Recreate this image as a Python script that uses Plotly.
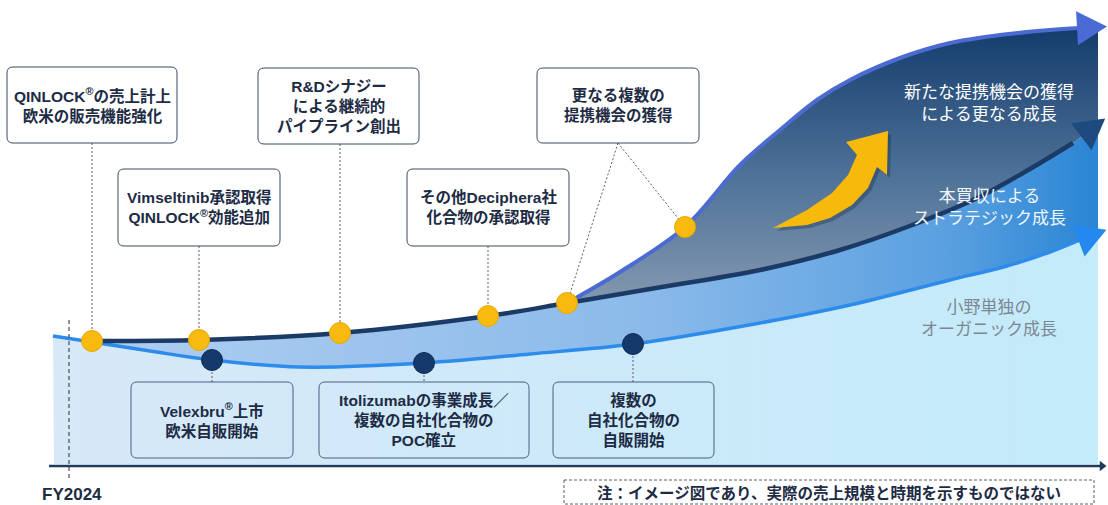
import plotly.graph_objects as go
import numpy as np

W, H = 1108, 505

# ---- growth curves (x: time position, y: level, y axis drawn top-down) ----
organic_x = [53, 92, 150, 212, 300, 424, 530, 633, 760, 850, 950, 1007, 1050, 1080, 1098]
organic_y = [336, 342, 351, 360, 367, 363, 354, 344, 323, 305, 280, 266, 252, 240, 233]
strategic_x = [92, 200, 340, 488, 567, 650, 760, 840, 907, 973, 1023, 1073, 1098]
strategic_y = [341, 340, 333, 316, 303, 289, 270, 250, 227, 200, 173, 143, 124]
partner_x = [567, 620, 685, 740, 780, 817, 850, 900, 950, 1000, 1050, 1080, 1098]
partner_y = [303, 272, 227, 165, 130, 100, 80, 58, 43, 35, 30, 28, 27]
base_level = 464

# ---- milestones ----
yellow_x = [92, 199, 340, 488, 567, 685]
yellow_y = [341, 340, 333, 316, 303, 227]
navy_x = [212, 424, 633]
navy_y = [360, 363, 344]

top_text = ["QINLOCK<sup>®</sup>の売上計上<br>欧米の販売機能強化",
            "Vimseltinib承認取得<br>QINLOCK<sup>®</sup>効能追加",
            "R&amp;Dシナジー<br>による継続的<br>パイプライン創出",
            "その他Deciphera社<br>化合物の承認取得",
            "更なる複数の<br>提携機会の獲得"]
top_x0 = [7, 118, 258, 407, 537]
top_x1 = [177, 280, 419, 569, 699]
top_y0 = [67, 169, 68, 169, 68]
top_y1 = [143, 246, 144, 246, 143]
top_targets = [[0], [1], [2], [3], [4, 5]]

bot_text = ["Velexbru<sup>®</sup>上市<br>欧米自販開始",
            "Itolizumabの事業成長／<br>複数の自社化合物の<br>POC確立",
            "複数の<br>自社化合物の<br>自販開始"]
bot_x0 = [131, 319, 553]
bot_x1 = [293, 529, 714]
bot_y0 = [382, 382, 382]
bot_y1 = [458, 458, 458]

# series labels
label_text = ["新たな提携機会の獲得<br>による更なる成長",
              "本買収による<br>ストラテジック成長",
              "小野単独の<br>オーガニック成長"]
label_y = [103, 207, 318]
label_col = ["white", "#F2F6FB", "#7D8794"]

# yellow swoosh icon outline
spark_x = [773, 807, 832, 848, 857, 846, 888, 887, 877, 868, 852, 830, 807, 773]
spark_y = [228, 210, 193, 175, 155, 142, 131, 175, 167, 188, 205, 218, 225, 228]

C_ORG = "#2D8CEB"
C_STR = "#1B3A66"
C_PAR = "#4B6BD3"
TXT = "#1D2B45"
FONT = "Liberation Sans, Noto Sans CJK JP, sans-serif"

fig = go.Figure()
nohover = dict(hoverinfo="skip", showlegend=False)

# light organic area
fig.add_trace(go.Scatter(x=[organic_x[0] + 1, organic_x[-1]], y=[base_level, base_level],
                         mode="lines", line=dict(width=0), **nohover))
fig.add_trace(go.Scatter(x=organic_x, y=organic_y, mode="lines", line=dict(width=0, shape="spline"),
                         fill="tonexty",
                         fillgradient=dict(type="horizontal", start=54, stop=1098,
                                           colorscale=[[0, "#D7E8F8"], [1, "#C3EBFA"]]),
                         **nohover))
# strategic area
ox = np.array(organic_x); oy = np.array(organic_y)
m = ox >= strategic_x[0]
fig.add_trace(go.Scatter(x=ox[m], y=oy[m], mode="lines", line=dict(width=0, shape="spline"), **nohover))
fig.add_trace(go.Scatter(x=strategic_x, y=strategic_y, mode="lines", line=dict(width=0, shape="spline"),
                         fill="tonexty",
                         fillgradient=dict(type="horizontal", start=92, stop=1098,
                                           colorscale=[[0, "#AFCEF0"], [0.55, "#8BBAEA"],
                                                       [0.85, "#5AA0E0"], [1, "#2A85D3"]]),
                         **nohover))
# partnership area
sx = np.array(strategic_x); sy = np.array(strategic_y)
m2 = sx >= partner_x[0]
fig.add_trace(go.Scatter(x=sx[m2], y=sy[m2], mode="lines", line=dict(width=0, shape="spline"), **nohover))
fig.add_trace(go.Scatter(x=partner_x, y=partner_y, mode="lines", line=dict(width=0, shape="spline"),
                         fill="tonexty",
                         fillgradient=dict(type="vertical", start=303, stop=27,
                                           colorscale=[[0, "#8498AF"], [0.45, "#4F7399"], [1, "#143C6C"]]),
                         **nohover))

# curve lines + arrow heads
def arrow_head(xs, ys):
    p1 = np.array([xs[-2], ys[-2]], float); p2 = np.array([xs[-1], ys[-1]], float)
    d = (p2 - p1) / np.linalg.norm(p2 - p1)
    n = np.array([-d[1], d[0]])
    tip = p2 + 9 * d
    bc = tip - 30 * d
    a = bc + 17 * n; b = bc - 17 * n
    return [tip[0], a[0], b[0], tip[0]], [tip[1], a[1], b[1], tip[1]]

for xs, ys, col, w, hc in [(organic_x, organic_y, C_ORG, 3.5, "#2389EE"),
                           (strategic_x, strategic_y, C_STR, 4.5, "#1F4A80"),
                           (partner_x, partner_y, C_PAR, 4, "#4A6AD6")]:
    fig.add_trace(go.Scatter(x=xs[:-1], y=ys[:-1], mode="lines",
                             line=dict(color=col, width=w, shape="spline"), **nohover))
    hx, hy = arrow_head(xs, ys)
    fig.add_trace(go.Scatter(x=hx, y=hy, mode="lines", fill="toself", fillcolor=hc,
                             line=dict(width=0), **nohover))

# swoosh arrow with shadow
fig.add_trace(go.Scatter(x=[v + 3 for v in spark_x], y=[v + 3 for v in spark_y], mode="lines",
                         fill="toself", fillcolor="rgba(10,30,60,0.30)", line=dict(width=0), **nohover))
fig.add_trace(go.Scatter(x=spark_x, y=spark_y, mode="lines", fill="toself", fillcolor="#F7B90A",
                         line=dict(width=0), **nohover))

# leader lines
lx, ly = [], []
for i, tg in enumerate(top_targets):
    cx = (top_x0[i] + top_x1[i]) / 2
    for t in tg:
        if len(tg) == 1:
            lx += [yellow_x[t], yellow_x[t], None]
        else:
            lx += [cx, yellow_x[t], None]
        ly += [top_y1[i], yellow_y[t], None]
for i in range(len(bot_text)):
    lx += [navy_x[i], navy_x[i], None]
    ly += [navy_y[i], bot_y0[i], None]
fig.add_trace(go.Scatter(x=lx, y=ly, mode="lines", line=dict(color="#5A5F68", width=1, dash="2px,2px"),
                         **nohover))

# FY2024 dashed marker line
fig.add_trace(go.Scatter(x=[69, 69], y=[320, 478], mode="lines",
                         line=dict(color="#4A4F58", width=1.2, dash="4px,3px"), **nohover))

# time axis
fig.add_trace(go.Scatter(x=[49, 1101], y=[466, 466], mode="lines", line=dict(color="#1F3B5E", width=2.5),
                         **nohover))
fig.add_trace(go.Scatter(x=[1102], y=[466], mode="markers",
                         marker=dict(symbol="triangle-right", size=9, color="#1F3B5E"), **nohover))

# milestone dots
fig.add_trace(go.Scatter(x=yellow_x, y=yellow_y, mode="markers",
                         marker=dict(size=21, color="#F8BA0E", line=dict(color="#E9A900", width=1)),
                         **nohover))
fig.add_trace(go.Scatter(x=navy_x, y=navy_y, mode="markers",
                         marker=dict(size=21, color="#15396A", line=dict(color="#0F2C55", width=1)),
                         **nohover))

# boxes
def rrect(x0, y0, x1, y1, r=6):
    return (f"M {x0+r},{y0} L {x1-r},{y0} Q {x1},{y0} {x1},{y0+r} L {x1},{y1-r} "
            f"Q {x1},{y1} {x1-r},{y1} L {x0+r},{y1} Q {x0},{y1} {x0},{y1-r} "
            f"L {x0},{y0+r} Q {x0},{y0} {x0+r},{y0} Z")

shapes = []
annotations = []
for i, t in enumerate(top_text):
    shapes.append(dict(type="path", path=rrect(top_x0[i], top_y0[i], top_x1[i], top_y1[i]),
                       xref="x", yref="y", fillcolor="white", line=dict(color="#3B4A60", width=1)))
    annotations.append(dict(x=(top_x0[i] + top_x1[i]) / 2, y=(top_y0[i] + top_y1[i]) / 2, text=f"<b>{t}</b>",
                            showarrow=False, font=dict(family=FONT, size=15.5, color=TXT)))
for i, t in enumerate(bot_text):
    shapes.append(dict(type="path", path=rrect(bot_x0[i], bot_y0[i], bot_x1[i], bot_y1[i]),
                       xref="x", yref="y", fillcolor="rgba(0,0,0,0)", line=dict(color="#4A5F7E", width=1)))
    annotations.append(dict(x=(bot_x0[i] + bot_x1[i]) / 2, y=(bot_y0[i] + bot_y1[i]) / 2, text=f"<b>{t}</b>",
                            showarrow=False, font=dict(family=FONT, size=15.5, color=TXT)))

# note box
shapes.append(dict(type="rect", x0=564, x1=1094, y0=480, y1=504, xref="x", yref="y",
                   line=dict(color="#5A5F68", width=1, dash="3px,2px"), fillcolor="rgba(0,0,0,0)"))
annotations.append(dict(x=829, y=493, text="<b>注：イメージ図であり、実際の売上規模と時期を示すものではない</b>",
                        showarrow=False, font=dict(family=FONT, size=15.5, color=TXT)))

annotations.append(dict(x=72, y=494, text="<b>FY2024</b>", showarrow=False, borderpad=0,
                        font=dict(family=FONT, size=17, color=TXT)))

for t, yy, c in zip(label_text, label_y, label_col):
    annotations.append(dict(x=989, y=yy, text=t, showarrow=False,
                            font=dict(family=FONT, size=17, color=c)))

fig.update_layout(
    width=W, height=H, margin=dict(l=0, r=0, t=0, b=0),
    paper_bgcolor="white", plot_bgcolor="white",
    xaxis=dict(range=[0, W], visible=False, fixedrange=True),
    yaxis=dict(range=[H, 0], visible=False, fixedrange=True),
    shapes=shapes, annotations=annotations, hovermode=False, showlegend=False,
)
fig.write_html("out.html")
